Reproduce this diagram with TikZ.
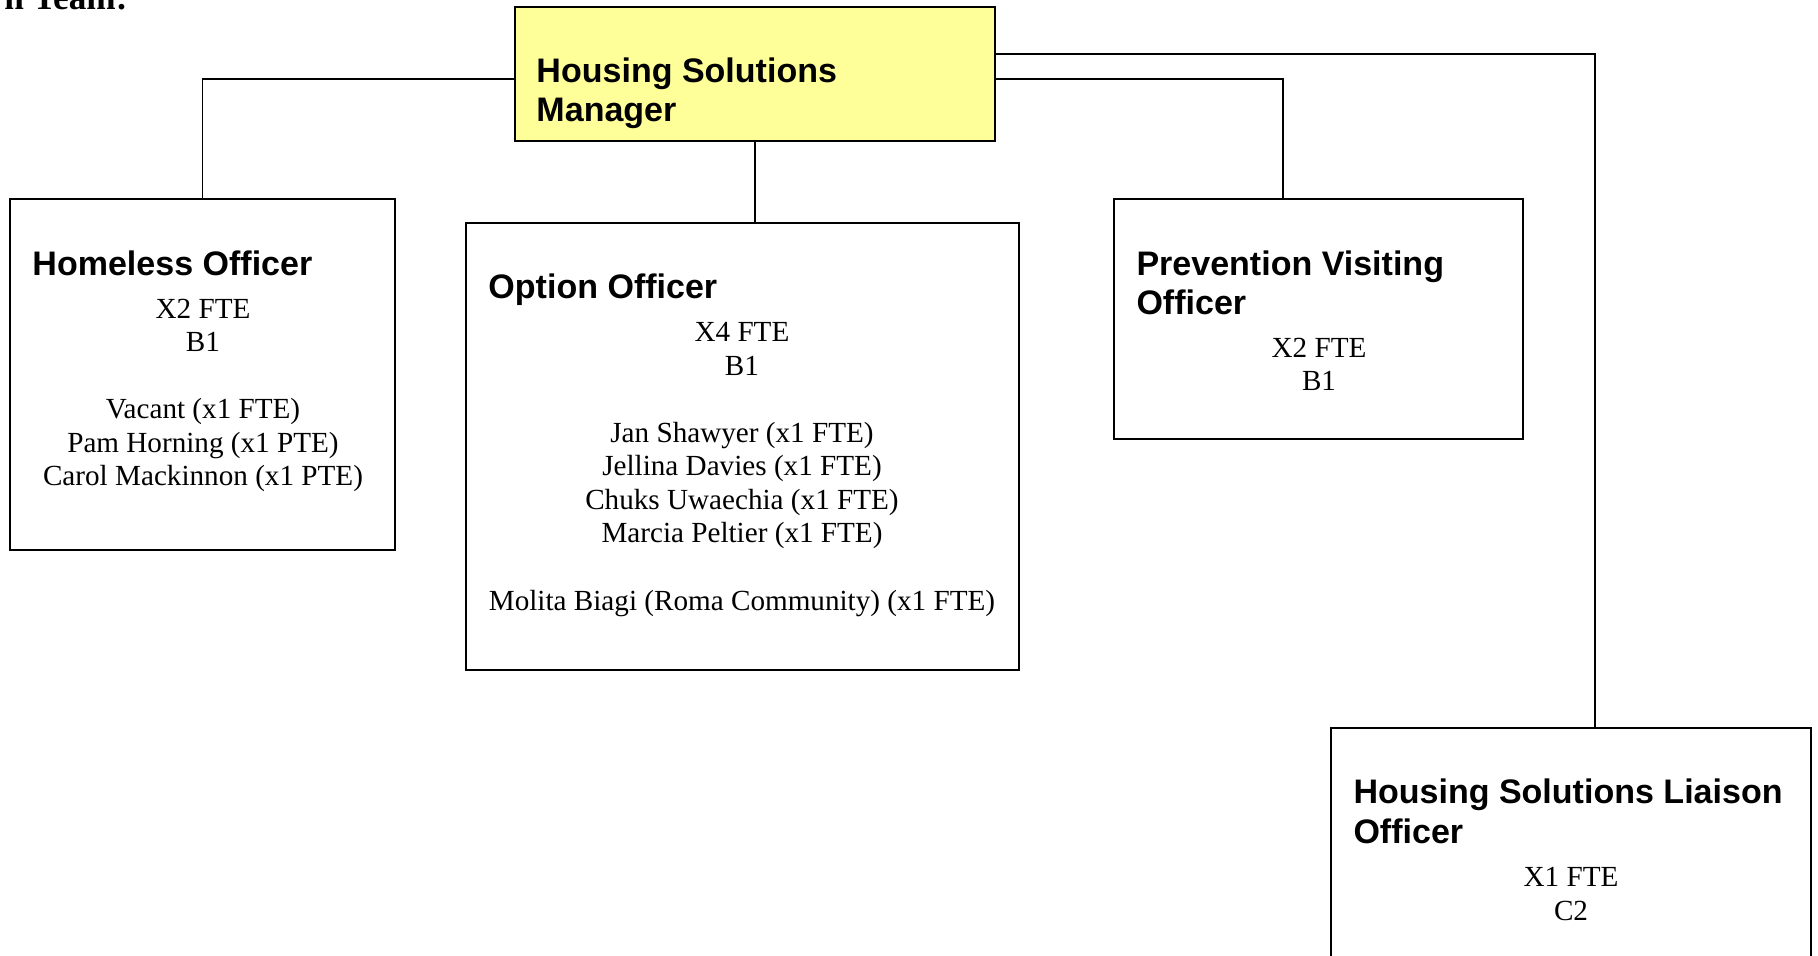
\documentclass[tikz,border=0pt]{standalone}
\usepackage{fontspec}
\setmainfont{Liberation Serif}
\setsansfont{Liberation Sans}
\usetikzlibrary{fit}
\definecolor{mgrfill}{HTML}{FFFF99}

\begin{document}
\begin{tikzpicture}[x=0.4115pt, y=-0.4115pt,
  box/.style={draw, line width=0.6pt, inner sep=0pt},
  heading/.style={anchor=base west, inner sep=0pt, align=left, font=\sffamily\bfseries\fontsize{14}{16.2}\selectfont},
  detail/.style={anchor=base, inner sep=0pt, align=center, font=\fontsize{12}{13.8}\selectfont},
  link/.style={line width=0.5pt}]

  \useasboundingbox (0,0) rectangle (1818,956);

  \node[anchor=base east, inner sep=0pt, font=\bfseries\fontsize{14.5}{16}\selectfont] (teamhead) at (128,10) {n Team:};

  % ***************** MANAGER *****************
  \node[box, fill=mgrfill, fit={(515,7) (995,141)}] (mgr) {};
  \node[heading] (mgrText) at (536,122) {Housing Solutions\\Manager};

  % ***************** HOMELESS *****************
  \node[box, fit={(10,199) (395,550)}] (homeless) {};
  \node[heading] (homelessText) at (32,276) {Homeless Officer};
  \node[detail] (homelessStaff) at (203,486) {X2 FTE\\B1\\[13.8pt]Vacant (x1 FTE)\\Pam Horning (x1 PTE)\\Carol Mackinnon (x1 PTE)};

  % ***************** OPTION *****************
  \node[box, fit={(466,223) (1019,670)}] (option) {};
  \node[heading] (optionText) at (488,299) {Option Officer};
  \node[detail] (optionStaff) at (742,610) {X4 FTE\\B1\\[13.8pt]Jan Shawyer (x1 FTE)\\Jellina Davies (x1 FTE)\\Chuks Uwaechia (x1 FTE)\\Marcia Peltier (x1 FTE)\\[13.8pt]Molita Biagi (Roma Community) (x1 FTE)};

  % ***************** PREVENTION *****************
  \node[box, fit={(1114,199) (1523,439)}] (prevent) {};
  \node[heading] (preventText) at (1136,315) {Prevention Visiting\\Officer};
  \node[detail] (preventStaff) at (1319,391) {X2 FTE\\B1};

  % ***************** LIAISON *****************
  \node[box, fit={(1331,728) (1811,990)}] (liaison) {};
  \node[heading] (liaisonText) at (1353,843) {Housing Solutions Liaison\\Officer};
  \node[detail] (liaisonStaff) at (1571,920) {X1 FTE\\C2};

  % ***************** LINKS *****************
  \coordinate (levelA) at (0,79);
  \coordinate (levelB) at (0,54);
  \coordinate (dropPrev) at (1283,0);
  \coordinate (dropLiai) at (1595,0);

  \draw[link] (mgr.west |- levelA) -| (homeless.north);
  \draw[link] (mgr.south) -- (mgr.south |- option.north);
  \draw[link] (mgr.east |- levelA) -| (prevent.north -| dropPrev);
  \draw[link] (mgr.east |- levelB) -| (liaison.north -| dropLiai);

\end{tikzpicture}
\end{document}
